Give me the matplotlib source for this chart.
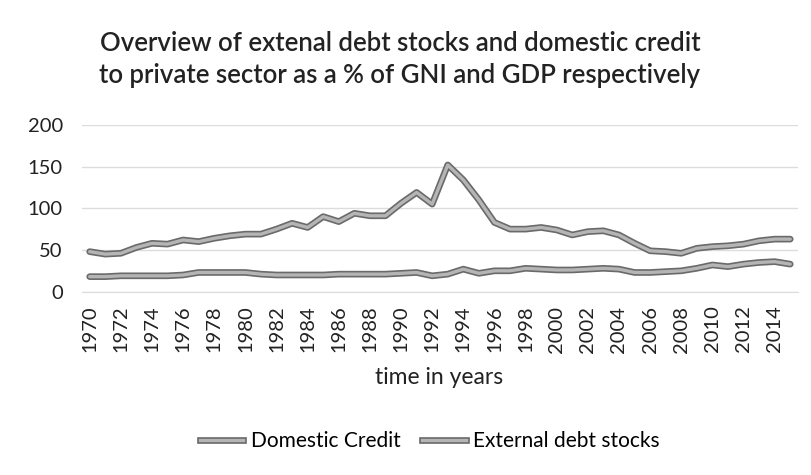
import matplotlib
matplotlib.use("Agg")
import matplotlib.pyplot as plt
from matplotlib.lines import Line2D
import matplotlib.patheffects as pe

years = list(range(1970, 2016))
domestic_credit = [48, 45, 46, 53, 58, 57, 62, 60, 64, 67, 69, 69, 75, 82, 77, 90, 84, 94, 91, 91,
                   106, 119, 105, 152, 134, 110, 83, 75, 75, 77, 74, 68, 72, 73, 68, 58, 49, 48, 46, 52,
                   54, 55, 57, 61, 63, 63]
external_debt = [18, 18, 19, 19, 19, 19, 20, 23, 23, 23, 23, 21, 20, 20, 20, 20, 21, 21, 21, 21,
                 22, 23, 19, 21, 27, 22, 25, 25, 28, 27, 26, 26, 27, 28, 27, 23, 23, 24, 25, 28,
                 32, 30, 33, 35, 36, 33]
xtick_years = list(range(1970, 2015, 2))
yticks = [0, 50, 100, 150, 200]
title = "Overview of extenal debt stocks and domestic credit\nto private sector as a % of GNI and GDP respectively"

FONT = ["Lato", "DejaVu Sans"]
plt.rcParams['font.family'] = FONT

fig = plt.figure(figsize=(8.11, 4.75), dpi=100)
ax = fig.add_axes([0.101, 0.386, 0.883, 0.351])

outline = [pe.Stroke(linewidth=4.8, foreground="#6a6a6a"), pe.Normal()]
ax.plot(years, domestic_credit, color="#b5b5b5", lw=2.4, path_effects=outline,
        solid_joinstyle="round", solid_capstyle="round")
ax.plot(years, external_debt, color="#b5b5b5", lw=2.4, path_effects=outline,
        solid_joinstyle="round", solid_capstyle="round")

ax.set_xlim(1969.5, 2015.5)
ax.set_ylim(0, 200)
ax.set_yticks(yticks)
ax.set_xticks(xtick_years)
ax.set_xticklabels([str(y) for y in xtick_years], rotation=90)
ax.tick_params(axis="both", length=0, labelsize=14.5, colors="#222222")
ax.tick_params(axis="y", pad=13.7)
ax.tick_params(axis="x", pad=10)
ax.grid(axis="y", color="#dcdcdc", lw=1.0)
ax.set_axisbelow(True)
for s in ["top", "right", "left"]:
    ax.spines[s].set_visible(False)
ax.spines["bottom"].set_color("#dcdcdc")

fig.text(0.493, 0.874, title, ha="center", va="center", fontsize=18.5,
         fontweight="semibold", color="#222222", linespacing=1.34)
fig.text(0.541, 0.205, "time in years", ha="center", va="center", fontsize=16.5, color="#222222")

handles = [Line2D([0], [0], color="#b5b5b5", lw=2.4, path_effects=outline),
           Line2D([0], [0], color="#b5b5b5", lw=2.4, path_effects=outline)]
fig.legend(handles, ["Domestic Credit", "External debt stocks"], loc="center",
           bbox_to_anchor=(0.53, 0.072), ncol=2, frameon=False, fontsize=15,
           handlelength=2.1, handletextpad=0.35, columnspacing=1.05)

fig.savefig("out.png", dpi=100)
